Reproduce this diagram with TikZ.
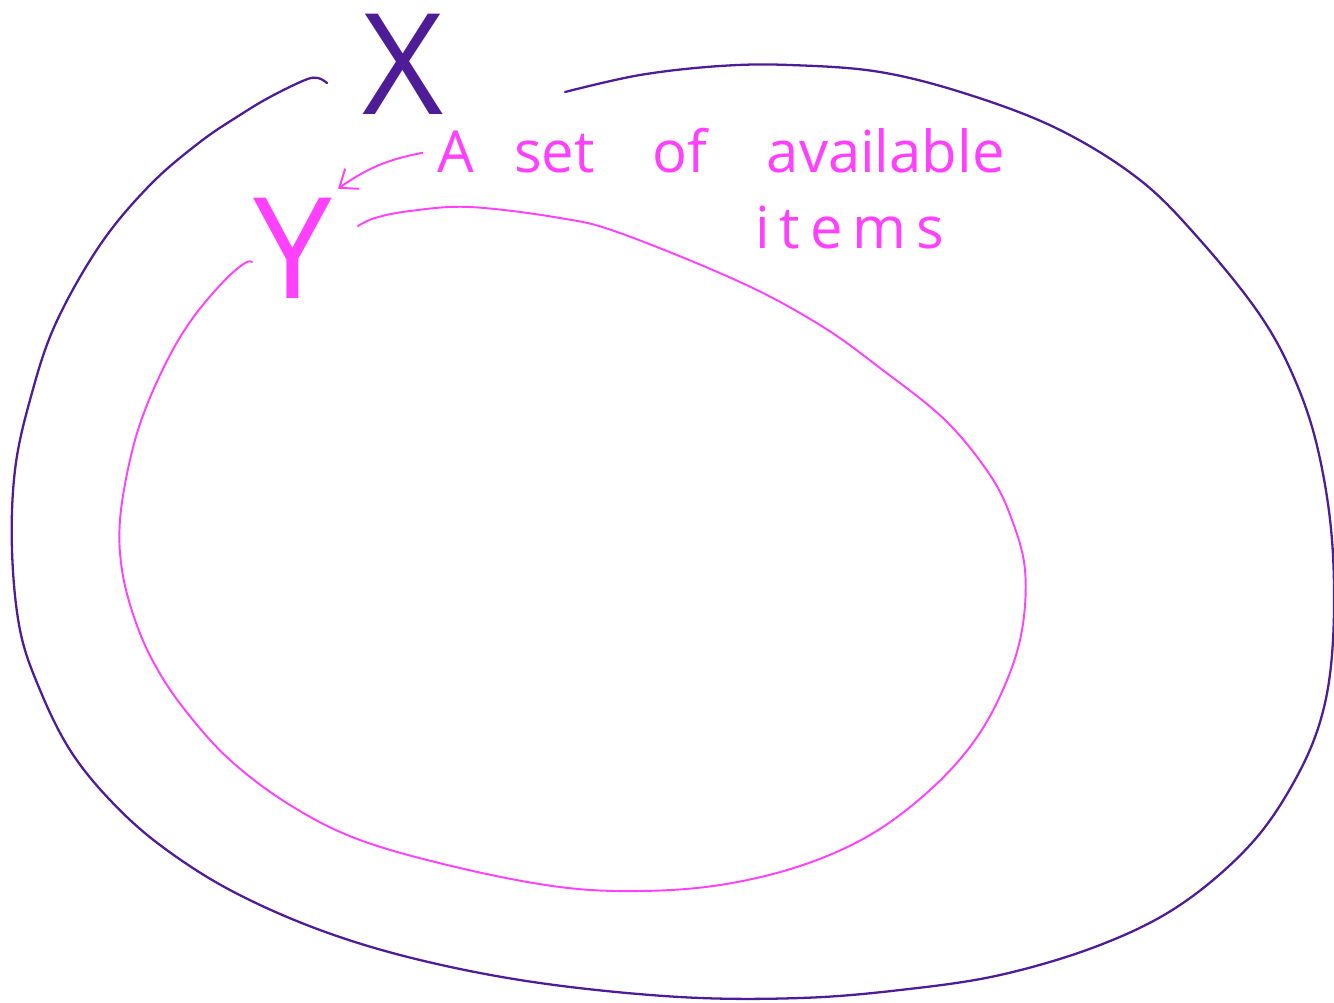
\documentclass[tikz,border=0pt]{standalone}
\usepackage{fontspec}
\setmainfont{Open Sans}
\usetikzlibrary{arrows.meta,positioning}
\definecolor{setpurple}{RGB}{78,28,150}
\definecolor{setpink}{RGB}{255,64,255}

\begin{document}
\begin{tikzpicture}[x=0.02cm,y=-0.02cm,>={Straight Barb[length=9pt,width=14pt]},
  outerset/.style={setpurple,line width=1.3pt,line cap=round},
  innerset/.style={setpink,line width=1.1pt,line cap=round},
  hand/.style={setpink,font=\fontsize{33}{38}\selectfont,inner sep=0pt},
  letter/.style={font=\fontsize{80}{90}\selectfont,inner sep=0pt}]
  \useasboundingbox (0,0) rectangle (1334,1002);
  \draw[outerset] plot[smooth,tension=0.6] coordinates {(327,83) (318,78) (305,80) (270,97) (240,115)
    (200,142) (150,185) (100,245) (55,325) (30,400) (15,470) (12,550) (20,630) (40,690) (70,750)
    (110,800) (160,845) (230,890) (320,930) (420,960) (540,983) (680,997) (800,998) (900,990)
    (1000,975) (1100,945) (1180,905) (1250,845) (1295,780) (1322,715) (1333,640) (1332,540)
    (1318,450) (1295,380) (1260,315) (1200,240) (1140,180) (1060,130) (970,95) (880,72) (790,65)
    (720,66) (640,75) (565,92)};
  \draw[innerset] plot[smooth,tension=0.6] coordinates {(252,262) (245,263) (225,280) (195,315)
    (170,355) (145,410) (130,460) (120,520) (122,570) (135,620) (155,665) (185,710) (230,760)
    (290,805) (360,840) (460,868) (560,887) (640,891) (720,885) (800,866) (870,835) (930,790)
    (975,740) (1005,685) (1022,630) (1025,570) (1012,520) (990,475) (945,420) (880,368) (820,325)
    (740,282) (620,233) (560,218) (470,207) (410,211) (375,218) (358,226)};
  \node[letter,setpurple] (X) at (403,64) {X};
  \node[letter,setpink] (Y) at (293,248) {Y};
  \node[hand,anchor=base west] (avail) at (437,172)
    {A\hspace{0.8cm}set\hspace{1.15cm}of\hspace{1.2cm}available};
  \node[hand,anchor=base west] (items) at (755,248) {\addfontfeature{LetterSpace=17}items};
  \draw[->,setpink,line width=1.1pt] ([xshift=-8pt,yshift=11pt]avail.base west)
    to[bend right=12] ([xshift=3pt,yshift=5pt]Y.north east);
\end{tikzpicture}
\end{document}
